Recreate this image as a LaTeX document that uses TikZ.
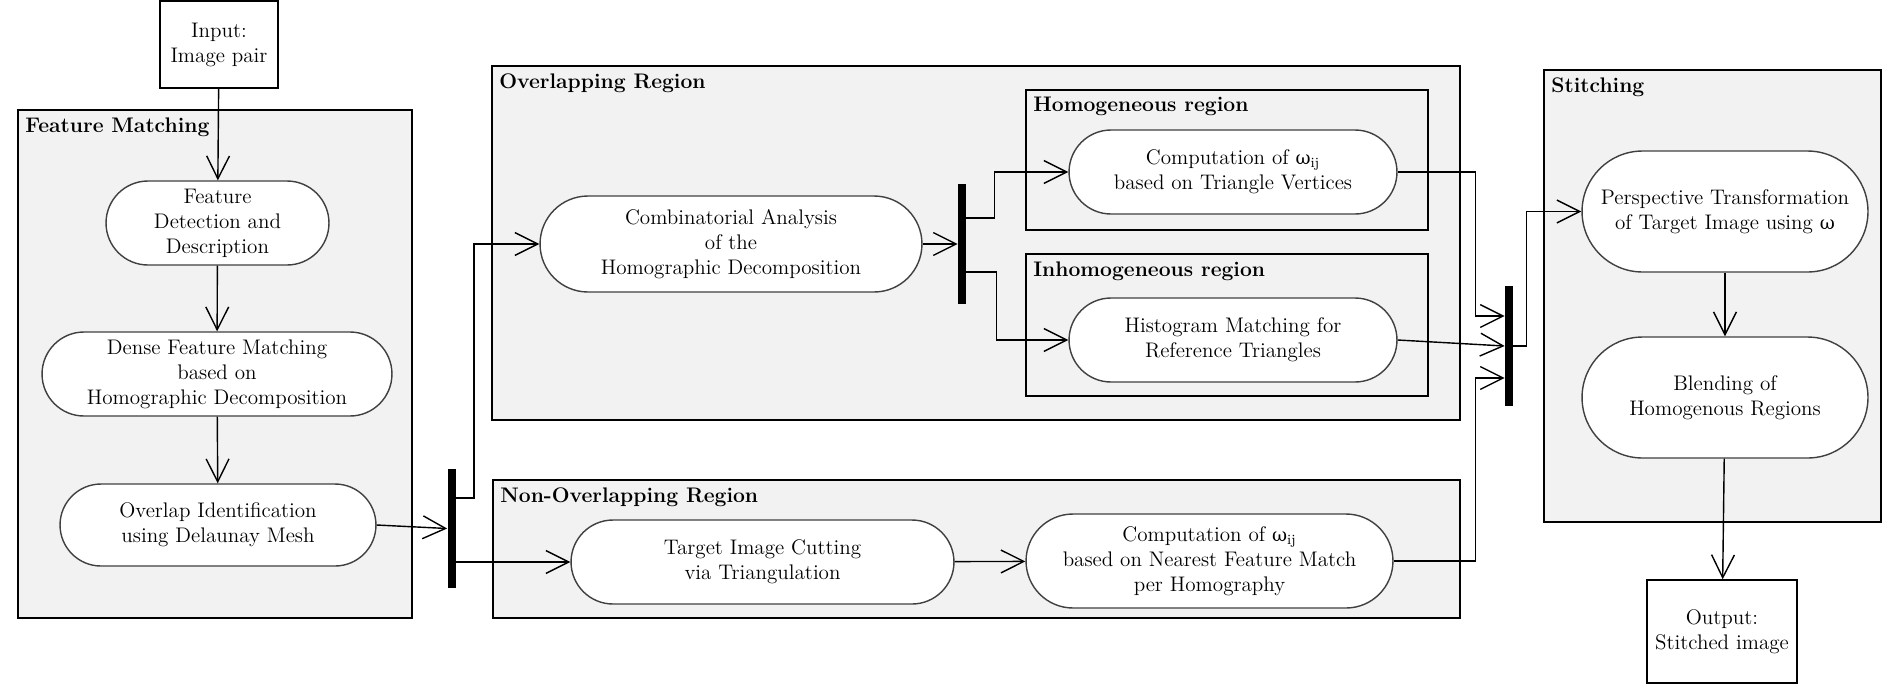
\documentclass[tikz,border=0pt]{standalone}
\usetikzlibrary{arrows.meta, positioning}
\usepackage{fontspec}
\newfontfamily\greekfont{DejaVu Serif}
\newcommand{\omg}{{\greekfont\fontsize{10.5}{14.2}\selectfont ω}}

\begin{document}
\begin{tikzpicture}[auto, x=0.02cm, y=-0.02cm, >={Straight Barb[length=13pt, width=13pt]},
	every node/.style={font=\fontsize{12}{14.2}\selectfont},
	region/.style={draw, line width=0.9pt, fill=black!5},
	regionlabel/.style={anchor=north west, inner sep=4pt, font=\fontsize{12}{14.2}\selectfont\bfseries},
	activity/.style={draw=black!75, line width=0.8pt, fill=white, rectangle, rounded corners=#1, align=center, inner sep=1pt},
	activity/.default=0.84cm,
	iobox/.style={draw, line width=0.9pt, fill=white, align=center},
	forkbar/.style={fill=black, inner sep=0pt, minimum width=0.16cm},
	flow/.style={->, line width=0.8pt}]
	
	\useasboundingbox (0,0) rectangle (1882,684);
	
	% Regions
	\draw [region] (18,110) rectangle (412,618);
	\node [regionlabel] (fmlabel) at (18,110) {Feature Matching};
	\draw [region] (492,66) rectangle (1460,420);
	\node [regionlabel] (orlabel) at (492,66) {Overlapping Region};
	\draw [region] (1026,90) rectangle (1428,230);
	\node [regionlabel] (hrlabel) at (1026,90) {Homogeneous region};
	\draw [region] (1026,254) rectangle (1428,396);
	\node [regionlabel] (irlabel) at (1026,254) {Inhomogeneous region};
	\draw [region] (493,480) rectangle (1460,618);
	\node [regionlabel] (nrlabel) at (493,480) {Non-Overlapping Region};
	\draw [region] (1544,70) rectangle (1881,522);
	\node [regionlabel] (stlabel) at (1544,70) {Stitching};
	
	% Nodes
	\node [iobox, minimum width=2.36cm, minimum height=1.74cm] (input) at (219,44.5) {Input:\\Image pair};
	\node [activity, minimum width=4.46cm, minimum height=1.68cm] (detect) at (217.5,223) {Feature\\Detection and\\Description};
	\node [activity, minimum width=7cm, minimum height=1.68cm] (dense) at (217,374) {Dense Feature Matching\\based on\\Homographic Decomposition};
	\node [activity=0.82cm, minimum width=6.32cm, minimum height=1.64cm] (overlap) at (218,525) {Overlap Identification\\using Delaunay Mesh};
	\node [forkbar, minimum height=2.38cm] (bar1) at (451.5,528.5) {};
	
	\node [activity=0.96cm, minimum width=7.64cm, minimum height=1.92cm] (comb) at (731,244) {Combinatorial Analysis\\of the\\Homographic Decomposition};
	\node [forkbar, minimum height=2.4cm] (bar2) at (962,244) {};
	\node [activity, minimum width=6.56cm, minimum height=1.68cm] (comp1) at (1233,172) {Computation of \omg\textsubscript{ij}\\based on Triangle Vertices};
	\node [activity, minimum width=6.56cm, minimum height=1.68cm] (hist) at (1233,340) {Histogram Matching for\\Reference Triangles};
	
	\node [activity, minimum width=7.66cm, minimum height=1.68cm] (target) at (762.5,562) {Target Image Cutting\\via Triangulation};
	\node [activity=0.94cm, minimum width=7.34cm, minimum height=1.88cm] (comp2) at (1209.5,561) {Computation of \omg\textsubscript{ij}\\based on Nearest Feature Match\\per Homography};
	\node [forkbar, minimum height=2.4cm] (bar3) at (1509,346) {};
	
	\node [activity=1.21cm, minimum width=5.72cm, minimum height=2.42cm] (persp) at (1725,211.5) {Perspective Transformation\\of Target Image using \omg};
	\node [activity=1.21cm, minimum width=5.72cm, minimum height=2.42cm] (blend) at (1725,397.5) {Blending of\\Homogenous Regions};
	\node [iobox, minimum width=3cm, minimum height=2.06cm] (output) at (1722,631.5) {Output:\\Stitched image};
	
	% Arrows
	\draw [flow] (input) -- (detect);
	\draw [flow] (detect) -- (dense);
	\draw [flow] (dense) -- (overlap);
	\draw [flow] (overlap.east) -- (bar1.west);
	\draw [flow] ([yshift=0.61cm]bar1.east) -- ++(18,0) |- (comb.west);
	\draw [flow] (bar1.east |- target.west) -- (target.west);
	\draw [flow] (comb.east) -- (comb.east -| bar2.west);
	\draw [flow] ([yshift=0.52cm]bar2.east) -- ++(28,0) |- (comp1.west);
	\draw [flow] ([yshift=-0.56cm]bar2.east) -- ++(30,0) |- (hist.west);
	\draw [flow] (target) -- (comp2);
	\draw [flow] (comp1.east) -- ++(78,0) |- ([yshift=0.6cm]bar3.west);
	\draw [flow] (hist.east) -- (bar3.west);
	\draw [flow] (comp2.east) -- ++(82,0) |- ([yshift=-0.64cm]bar3.west);
	\draw [flow] (bar3.east) -- ++(13,0) |- (persp.west);
	\draw [flow] (persp) -- (blend);
	\draw [flow] (blend) -- (output);
	
\end{tikzpicture}
\end{document}
